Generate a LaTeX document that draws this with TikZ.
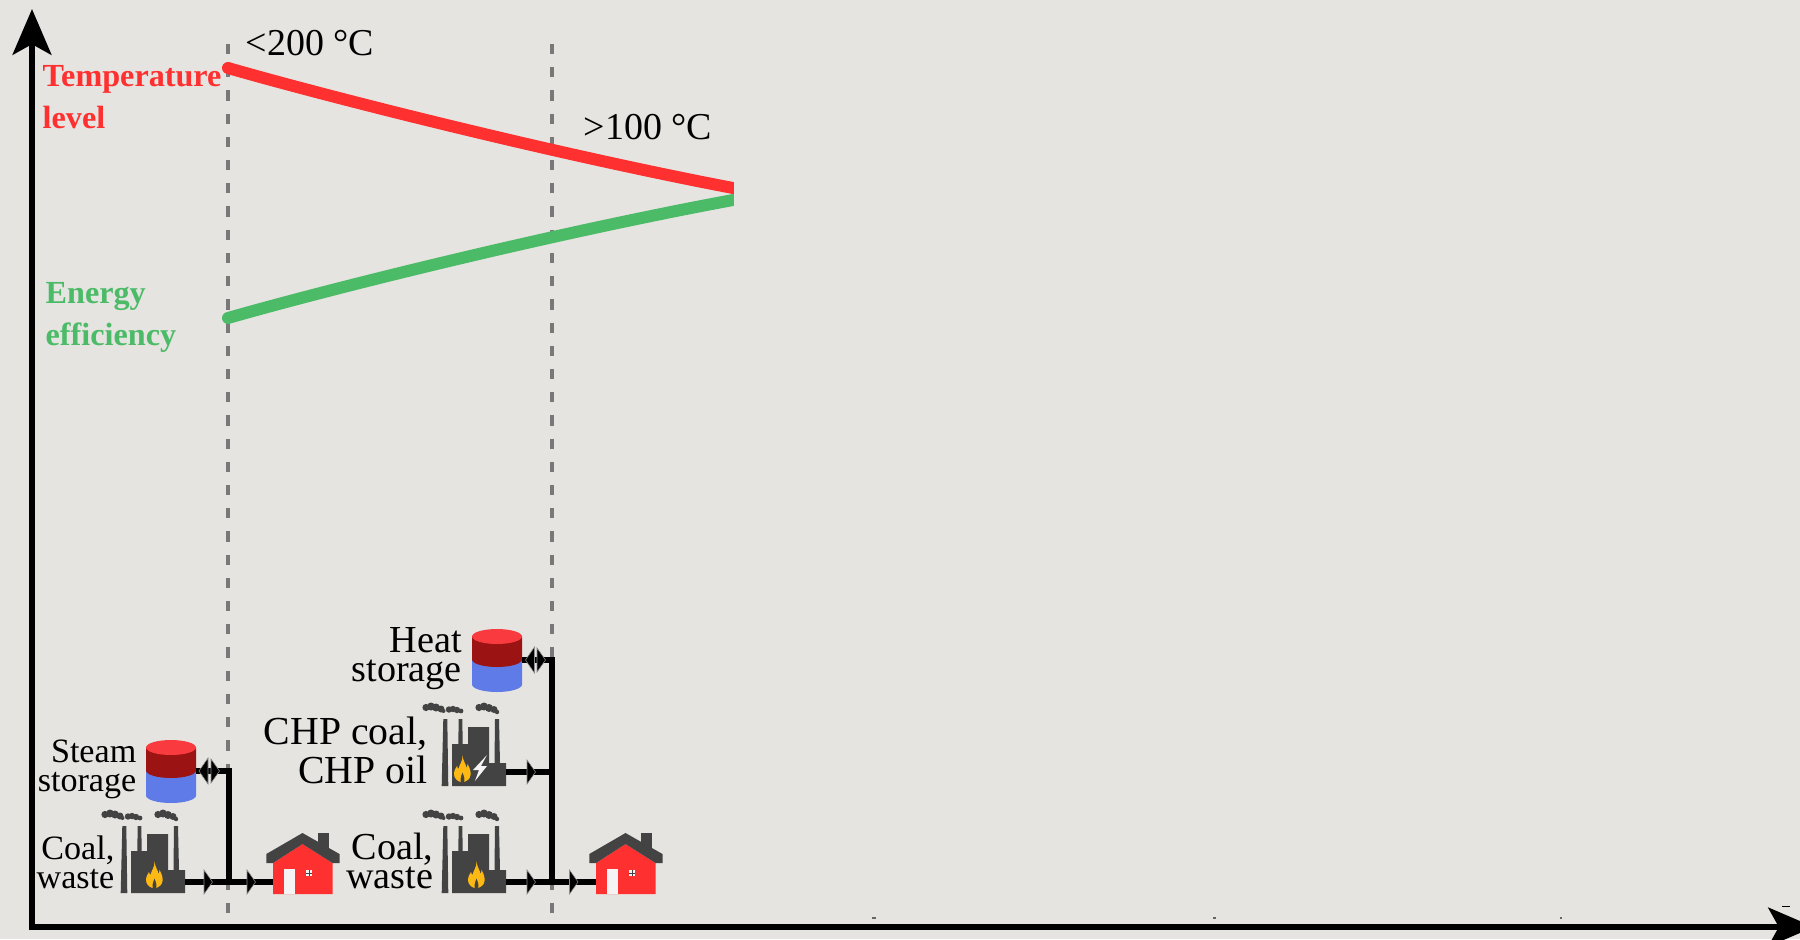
\documentclass[tikz,border=0pt]{standalone}
\usepackage{fontspec}
\setmainfont{Liberation Serif}
\usetikzlibrary{arrows.meta}
\definecolor{paper}{HTML}{E5E4E0}
\definecolor{guidegray}{HTML}{787878}
\definecolor{hotred}{HTML}{FF3030}
\definecolor{effgreen}{HTML}{4CBB68}
\definecolor{plantgray}{HTML}{434343}
\definecolor{flameyellow}{HTML}{FDB913}
\definecolor{tanktop}{HTML}{F93A3F}
\definecolor{tankdark}{HTML}{9B1313}
\definecolor{tankblue}{HTML}{5F7BE8}
\definecolor{doorwhite}{HTML}{F5F3F3}
\tikzset{
    axisline/.style={draw=black, line width=1.7pt, -{Stealth[length=13pt, width=11pt, inset=3pt]}},
    guide/.style={draw=guidegray, line width=0.95pt, dash pattern=on 2.9pt off 3.7pt},
    trendline/.style={line width=3.4pt},
    flowline/.style={draw=black, line width=1.7pt},
    flowtip/.style={fill=black, draw=black!45, line width=0.15pt},
    plant/.style={fill=plantgray},
    labelA/.style={inner sep=0, align=right, anchor=base east, font=\fontsize{9.7}{8.1}\selectfont},
    labelB/.style={inner sep=0, align=right, anchor=base east, font=\fontsize{10.85}{8.1}\selectfont},
    labelC/.style={inner sep=0, align=right, anchor=base east, font=\fontsize{11.3}{11}\selectfont},
    templabel/.style={inner sep=0, anchor=base west, font=\fontsize{10.8}{12}\selectfont},
    linelabel/.style={inner sep=0, align=left, anchor=base west, font=\fontsize{9.15}{11.7}\selectfont\bfseries},
    % flow direction marks
    tipright/.pic={\path[flowtip] (0,-12) -- (8.5,0) -- (0,12) -- cycle;},
    tipleft/.pic={\path[flowtip] (0,-13) -- (-9,0) -- (0,13) -- cycle;},
    % origin of the plant is the lower left corner of its building
    factory/.pic={
        \fill[plant] (-10.3,0) -- (-8.7,-67) -- (-4.7,-67) -- (-3.7,0) -- cycle;
        \fill[plant] (6.3,-42) -- (6.7,-67) -- (10.3,-67) -- (10.7,-42) -- cycle;
        \fill[plant] (42.5,-23) -- (43,-67) -- (47,-67) -- (48,-23) -- cycle;
        \fill[plant] (0,0) -- (0,-42) -- (16,-42) -- (16,-59) -- (37,-59) -- (37,-23) -- (54,-23) -- (54,0) -- cycle;
        \foreach \cx/\cy/\cr in {-26/-78.5/3.6, -21/-79.5/4, -16/-78.5/4, -11/-77/3.5, -8.5/-75/2,
                                 -3/-76.5/3.2, 1/-77/3.2, 5/-76/3.2, 9/-75/2.4,
                                 27/-78.5/3.6, 32/-79.5/4, 37/-78/4, 42/-76.5/3.5, 45/-74/2.2}
            \fill[plant] (\cx,\cy) circle (\cr);
        \coordinate (-out) at (54,-11);
    },
    flame/.pic={
        \fill[flameyellow] (8.5,-26.5) .. controls (9,-21) and (12,-18) .. (12.5,-14)
            .. controls (13,-15) and (13.5,-16) .. (13.5,-18) .. controls (16,-14) and (17,-10) .. (16.5,-7)
            .. controls (16,-3) and (13,-1) .. (10.5,0) .. controls (11,-3) and (10,-6) .. (8.5,-10)
            .. controls (7,-6) and (6,-3) .. (6.5,0) .. controls (3,-1) and (0,-4) .. (0,-8)
            .. controls (0,-12) and (2,-14) .. (3,-16) .. controls (3.5,-14) and (4,-13.5) .. (4.5,-13)
            .. controls (5,-17) and (9,-21) .. (8.5,-26.5) -- cycle;
    },
    bolt/.pic={
        \fill[doorwhite] (14,-26) -- (0,-11) -- (6,-11) -- (2,0) -- (14,-15) -- (8,-15) -- cycle;
    },
    % origin of the tank is the centre of its top face
    storagetank/.pic={
        \fill[tankblue] (-25,23) -- (25,23) -- (25,48) arc (0:-180:25 and -7.5) -- cycle;
        \fill[tankdark] (-25,0) -- (25,0) -- (25,23) arc (0:-180:25 and -7.5) -- cycle;
        \fill[tanktop] (0,0) ellipse (25 and 7.5);
        \coordinate (-out) at (25,23.5);
    },
    % origin of the house is the lower left corner of its wall
    house/.pic={
        \fill[plantgray] (44.5,-61) rectangle (55.5,-40);
        \fill[hotred] (0,0) -- (0,-31) -- (29.5,-50) -- (59.5,-31) -- (59.5,0) -- cycle;
        \fill[plantgray] (-6.7,-31) -- (-6.7,-40) -- (29.5,-61) -- (66.5,-40) -- (66.5,-31) -- (59.5,-31) -- (29.5,-50) -- (0,-31) -- cycle;
        \fill[doorwhite] (11.3,0) rectangle (22.3,-25);
        \fill[doorwhite] (33.3,-24) rectangle (39.3,-18.3);
        \draw[plantgray, line width=0.2pt] (36.3,-24) -- (36.3,-18.3) (33.3,-21) -- (39.3,-21);
        \coordinate (-in) at (0,-12);
    }
}
\begin{document}
\begin{tikzpicture}[x=0.01cm, y=-0.01cm]
    \fill[paper] (0,0) rectangle (1800,939);
    \useasboundingbox (0,0) rectangle (1800,939);

    \draw[guide] (228,44) -- (228,920);
    \draw[guide] (552,44) -- (552,920);

    \draw[axisline] (32,930) -- (32,9);
    \draw[axisline] (29,927) -- (1814,927);
    % stray marks over the axis
    \fill[black!60] (872,917) rectangle (876,919);
    \fill[black!60] (1213,917) rectangle (1216,919);
    \fill[black!60] (1560,917) rectangle (1562,918.5);
    \fill (1782,905.5) rectangle (1790,906.5);

    \draw[trendline, hotred, line cap=round] (228,68) .. controls (340,100) and (560,155) .. (733,188);
    \draw[trendline, effgreen, line cap=round] (228,318) .. controls (340,286) and (560,232) .. (733,200);
    \fill[paper] (734,170) rectangle (745,215);

    \node[linelabel, text=hotred] (templabel) at (42,128) {Temperature\\level};
    \node[linelabel, text=effgreen] (efflabel) at (45,345) {Energy\\efficiency};
    \node[templabel] (lowtemp) at (245,55) {<200 °C};
    \node[templabel] (hightemp) at (583,139) {>100 °C};

    \begin{scope}
        \pic (steam) at (171,747.5) {storagetank};
        \pic (coalA) at (131,893) {factory};
        \pic at (146,888) {flame};
        \pic (houseA) at (273,894) {house};
        \coordinate (joinA) at (229,882);
        \node[labelA] (steamlabel) at (137,791) {Steam\\storage};
        \node[labelA] (coalAlabel) at (115,888) {Coal,\\waste};
        \draw[flowline] (coalA-out) -- (houseA-in);
        \draw[flowline] (steam-out) -| (joinA);
        \pic at (204,882) {tipright};
        \pic at (247,882) {tipright};
        \pic at (208,771) {tipleft};
        \pic at (211,771) {tipright};
    \end{scope}

    \begin{scope}
        \pic (heat) at (497,636.5) {storagetank};
        \pic (chp) at (452,786) {factory};
        \pic at (454,782) {flame};
        \pic at (473,781) {bolt};
        \pic (coalB) at (452,893) {factory};
        \pic at (468,888) {flame};
        \pic (houseB) at (596,894) {house};
        \coordinate (joinB) at (552,882);
        \coordinate (joinC) at (552,772);
        \node[labelB] (heatlabel) at (462.5,681) {Heat\\storage};
        \node[labelC] (chplabel) at (428,783) {CHP coal,\\CHP oil};
        \node[labelB] (coalBlabel) at (434,888) {Coal,\\waste};
        \draw[flowline] (coalB-out) -- (houseB-in);
        \draw[flowline] (chp-out |- joinC) -- (joinC);
        \draw[flowline] (heat-out) -| (joinB);
        \pic at (527,882) {tipright};
        \pic at (569.5,882) {tipright};
        \pic at (527,772) {tipright};
        \pic at (534.5,660) {tipleft};
        \pic at (537,660) {tipright};
    \end{scope}
\end{tikzpicture}
\end{document}
